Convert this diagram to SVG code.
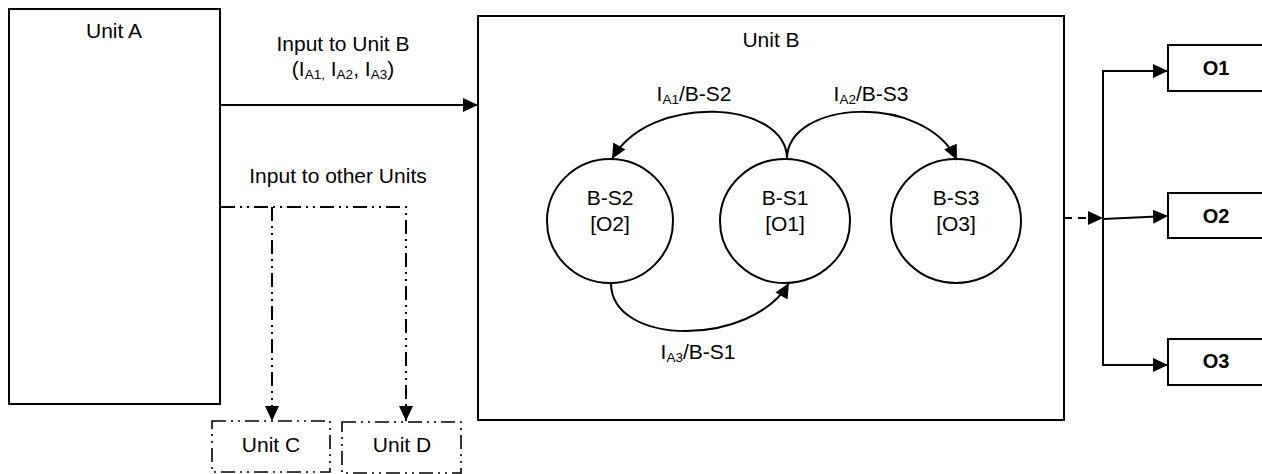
<svg xmlns="http://www.w3.org/2000/svg" width="1262" height="474" viewBox="0 0 1262 474">
  <defs>
    <marker id="arrow" markerUnits="userSpaceOnUse" markerWidth="16" markerHeight="15" refX="15" refY="7" orient="auto">
      <path d="M0,0 L15,7 L0,14 Z" fill="#000"/>
    </marker>
    <style>
      text { font-family: "Liberation Sans", Arial, sans-serif; font-size: 21px; fill: #000; }
      .bold { font-weight: bold; font-size: 20px; }
      .sub { font-size: 13.5px; }
      .box { fill: #fff; stroke: #000; stroke-width: 2; }
      .state { fill: #fff; stroke: #000; stroke-width: 2; }
      .dashbox { fill: #fff; stroke: #000; stroke-width: 1.6; stroke-dasharray: 14 5 2 5 2 5; }
      .line { fill: none; stroke: #000; stroke-width: 2; }
      .dashdot { fill: none; stroke: #000; stroke-width: 2; stroke-dasharray: 14 5 2 5 2 5; }
      .dashed { fill: none; stroke: #000; stroke-width: 2; stroke-dasharray: 8 6; }
    </style>
  </defs>

  <!-- Unit A -->
  <g id="unit-a">
    <rect class="box" x="9" y="9" width="211" height="395"/>
    <text x="114" y="38" text-anchor="middle">Unit A</text>
  </g>

  <!-- Unit B container -->
  <g id="unit-b">
    <rect class="box" x="478" y="16" width="586" height="404"/>
    <text x="771" y="47" text-anchor="middle">Unit B</text>
  </g>

  <!-- States inside Unit B -->
  <g id="b-s2">
    <ellipse class="state" cx="610" cy="221" rx="63" ry="62"/>
    <text x="610" y="205" text-anchor="middle">B-S2</text>
    <text x="610" y="231" text-anchor="middle">[O2]</text>
  </g>
  <g id="b-s1">
    <ellipse class="state" cx="785" cy="221" rx="65" ry="62"/>
    <text x="785" y="205" text-anchor="middle">B-S1</text>
    <text x="785" y="231" text-anchor="middle">[O1]</text>
  </g>
  <g id="b-s3">
    <ellipse class="state" cx="956" cy="221" rx="65" ry="62"/>
    <text x="956" y="205" text-anchor="middle">B-S3</text>
    <text x="956" y="231" text-anchor="middle">[O3]</text>
  </g>

  <!-- Unit C and Unit D -->
  <g id="unit-c">
    <rect class="dashbox" x="212" y="421" width="118" height="51"/>
    <text x="271" y="452" text-anchor="middle">Unit C</text>
  </g>
  <g id="unit-d">
    <rect class="dashbox" x="342" y="422" width="119" height="51"/>
    <text x="402" y="452" text-anchor="middle">Unit D</text>
  </g>

  <!-- Output boxes -->
  <g id="o1">
    <rect class="box" x="1168" y="45" width="110" height="46"/>
    <text class="bold" x="1216" y="75" text-anchor="middle">O1</text>
  </g>
  <g id="o2">
    <rect class="box" x="1168" y="193" width="110" height="45"/>
    <text class="bold" x="1216" y="223" text-anchor="middle">O2</text>
  </g>
  <g id="o3">
    <rect class="box" x="1168" y="339" width="110" height="46"/>
    <text class="bold" x="1216" y="368" text-anchor="middle">O3</text>
  </g>

  <!-- Connectors -->
  <g id="connectors">
    <!-- Unit A to Unit B -->
    <line class="line" x1="221" y1="105" x2="478" y2="105" marker-end="url(#arrow)"/>
    <text x="343" y="51" text-anchor="middle">Input to Unit B</text>
    <text x="343" y="76" text-anchor="middle">(I<tspan class="sub" dy="3">A1,</tspan><tspan dy="-3"> I</tspan><tspan class="sub" dy="3">A2</tspan><tspan dy="-3">, I</tspan><tspan class="sub" dy="3">A3</tspan><tspan dy="-3">)</tspan></text>

    <!-- Unit A to other units -->
    <polyline class="dashdot" points="221,207 406,207 406,421" marker-end="url(#arrow)"/>
    <line class="dashdot" x1="272" y1="207" x2="272" y2="421" marker-end="url(#arrow)"/>
    <text x="338" y="183" text-anchor="middle">Input to other Units</text>

    <!-- State transitions -->
    <path class="line" d="M787,159 C787,100 650,92 612,159" marker-end="url(#arrow)"/>
    <text x="694" y="101" text-anchor="middle">I<tspan class="sub" dy="3">A1</tspan><tspan dy="-3">/B-S2</tspan></text>

    <path class="line" d="M787,159 C787,100 924,92 957,160" marker-end="url(#arrow)"/>
    <text x="871" y="101" text-anchor="middle">I<tspan class="sub" dy="3">A2</tspan><tspan dy="-3">/B-S3</tspan></text>

    <path class="line" d="M611,283 C611,347 752,347 789,283" marker-end="url(#arrow)"/>
    <text x="698" y="359" text-anchor="middle">I<tspan class="sub" dy="3">A3</tspan><tspan dy="-3">/B-S1</tspan></text>

    <!-- Unit B outputs -->
    <line class="dashed" x1="1064" y1="218" x2="1103" y2="218" marker-end="url(#arrow)"/>
    <polyline class="line" points="1168,71 1103,71 1103,365 1168,365"/>
    <line class="line" x1="1103" y1="71" x2="1168" y2="71" marker-end="url(#arrow)"/>
    <line class="line" x1="1103" y1="365" x2="1168" y2="365" marker-end="url(#arrow)"/>
    <line class="line" x1="1103" y1="219" x2="1168" y2="216" marker-end="url(#arrow)"/>
  </g>
</svg>
